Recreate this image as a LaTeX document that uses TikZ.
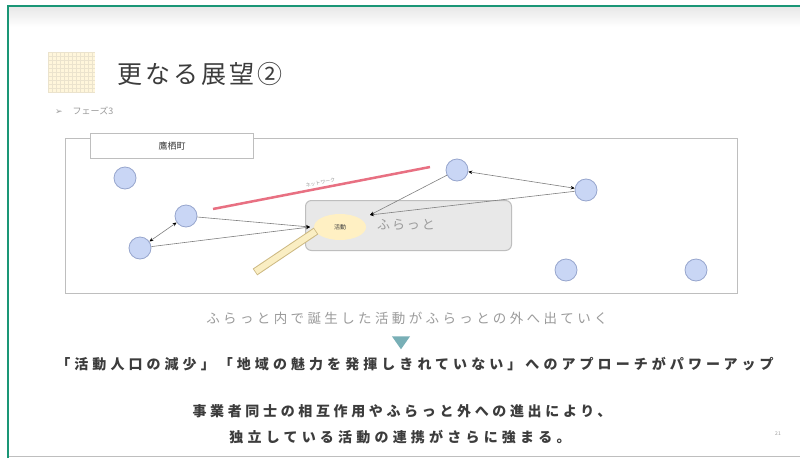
\documentclass[tikz,border=0pt]{standalone}
\usepackage{fontspec}
\usetikzlibrary{arrows.meta,shapes.geometric}
\newfontfamily\jp{Noto Sans CJK JP}
\newfontfamily\jpsp[LetterSpace=25]{Noto Sans CJK JP}
\newfontfamily\jpbd[LetterSpace=26]{Noto Sans CJK JP}
\newfontfamily\jpbdl[LetterSpace=29]{Noto Sans CJK JP}
\newfontfamily\jpbdw[LetterSpace=30]{Noto Sans CJK JP}
\newfontfamily\dv{DejaVu Sans}
\definecolor{frameGreen}{RGB}{26,150,118}
\definecolor{circFill}{RGB}{201,214,245}
\definecolor{circLine}{RGB}{150,165,205}
\definecolor{boxGray}{RGB}{232,232,232}
\definecolor{lineGray}{RGB}{190,190,190}
\definecolor{txtGray}{RGB}{155,155,155}
\definecolor{darkTxt}{RGB}{60,60,60}
\definecolor{redLine}{RGB}{232,112,130}
\definecolor{ellFill}{RGB}{255,240,195}
\definecolor{barLine}{RGB}{205,185,130}
\definecolor{barFill}{RGB}{250,238,195}
\definecolor{triTeal}{RGB}{120,175,182}
\tikzset{
  actor/.style={circle, minimum size=22pt, inner sep=0pt, fill=circFill, draw=circLine, line width=0.8pt},
  link/.style={draw=gray, line width=0.6pt, -{Stealth[length=4pt,width=3.5pt,color=black]}},
  linkboth/.style={draw=gray, line width=0.6pt, {Stealth[length=4pt,width=3.5pt,color=black]}-{Stealth[length=4pt,width=3.5pt,color=black]}},
}
\begin{document}
\begin{tikzpicture}[x=1pt,y=-1pt]
\useasboundingbox (0,0) rectangle (800,458);
\fill[white] (0,0) rectangle (800,458);
% header band
\shade[top color=boxGray, bottom color=white] (8,7) rectangle (800,27);
% frame
\draw[frameGreen, line width=2pt] (8,458) -- (8,6) -- (800,6);
\draw[lineGray, line width=1pt] (9,456) -- (800,456);
% title icon
\fill[ellFill!60] (48,52) rectangle (95,92);
\foreach \i in {0,...,11} {
  \draw[barLine!40, line width=0.3pt] (48+\i*4,52) -- (48+\i*4,92);
}
\foreach \j in {0,...,10} {
  \draw[barLine!40, line width=0.3pt] (48,52+\j*4) -- (95,52+\j*4);
}
\node[anchor=west, text=darkTxt, inner sep=0pt] (title) at (117,74) {\fontsize{25}{28}\selectfont\jp\addfontfeature{LetterSpace=12} 更なる展望②};
\node[anchor=west, text=txtGray, inner sep=0pt] (phase) at (55,111) {\fontsize{9}{11}\selectfont\dv ➢\hspace{10pt}\jp フェーズ3};
% main area
\node[draw=lineGray, line width=1pt, minimum width=672pt, minimum height=155pt, anchor=north west, inner sep=0pt] (area) at (65,138) {};
\node[draw=lineGray, line width=1pt, fill=white, minimum width=163pt, minimum height=25pt, anchor=north west, inner sep=0pt, text=darkTxt] (town) at (90,133) {\fontsize{9}{11}\selectfont\jp 鷹栖町};
% hub box
\node[draw=lineGray, line width=1pt, fill=boxGray, rounded corners=6pt, minimum width=206pt, minimum height=50pt, anchor=north west, inner sep=0pt] (hub) at (305,200) {};
\node[text=txtGray, inner sep=0pt] (hubtxt) at (406,225) {\fontsize{13}{15}\selectfont\jp\addfontfeature{LetterSpace=15} ふらっと};
\node[ellipse, fill=ellFill, minimum width=52pt, minimum height=26pt, inner sep=0pt, text=darkTxt] (act) at (340,227) {\fontsize{6}{7}\selectfont\jp 活動};
% circles
\node[actor] (c1) at (125,178) {};
\node[actor] (c2) at (186,216) {};
\node[actor] (c3) at (140,248) {};
\node[actor] (c4) at (457,170) {};
\node[actor] (c5) at (586,190) {};
\node[actor] (c6) at (566,270) {};
\node[actor] (c7) at (696,270) {};
\coordinate (inA) at (310,227);
\coordinate (inB) at (370,215);
\coordinate (redA) at (213,209);
\coordinate (redB) at (430,167);
\coordinate (barA) at (255,272);
\coordinate (barB) at (316,231);
% red line
\draw[redLine, line width=2.5pt] (redA) -- (redB) node[pos=0.5, above=2pt, sloped, text=txtGray, inner sep=0pt] (netlbl) {\fontsize{5}{6}\selectfont\jp ネットワーク};
% links
\draw[linkboth] (c3) -- (c2);
\draw[link] (c2) -- (inA);
\draw[link] (c3) -- (inA);
\draw[link] (c4) -- (inB);
\draw[link] (c5) -- (inB);
\draw[linkboth] (c4) -- (c5);
% bar
\draw[barLine, line width=8pt] (barA) -- (barB);
\draw[barFill, line width=6pt, shorten <=0.8pt, shorten >=0.8pt] (barA) -- (barB);
% texts
\node[text=txtGray, inner sep=0pt] (t1) at (407,318) {\fontsize{13.5}{15}\selectfont\jpsp ふらっと内で誕生した活動がふらっとの外へ出ていく};
\node[isosceles triangle, shape border rotate=-90, isosceles triangle apex angle=70, fill=triTeal, minimum height=13pt, minimum width=18pt, inner sep=0pt] (tri) at (401,341) {};
\node[text=darkTxt, inner sep=0pt] (t2) at (415,364) {\fontsize{14}{15}\selectfont\jpbdl\bfseries 「活動人口の減少」「地域の魅力を発揮しきれていない」へのアプローチがパワーアップ};
\node[text=darkTxt, inner sep=0pt] (t3) at (402,411) {\fontsize{14}{15}\selectfont\jpbd\bfseries 事業者同士の相互作用やふらっと外への進出により、};
\node[text=darkTxt, inner sep=0pt] (t4) at (400,437) {\fontsize{14}{15}\selectfont\jpbdw\bfseries 独立している活動の連携がさらに強まる。};
\node[text=txtGray, inner sep=0pt] (pg) at (778,434) {\fontsize{5}{6}\selectfont\jp 21};
\end{tikzpicture}
\end{document}
